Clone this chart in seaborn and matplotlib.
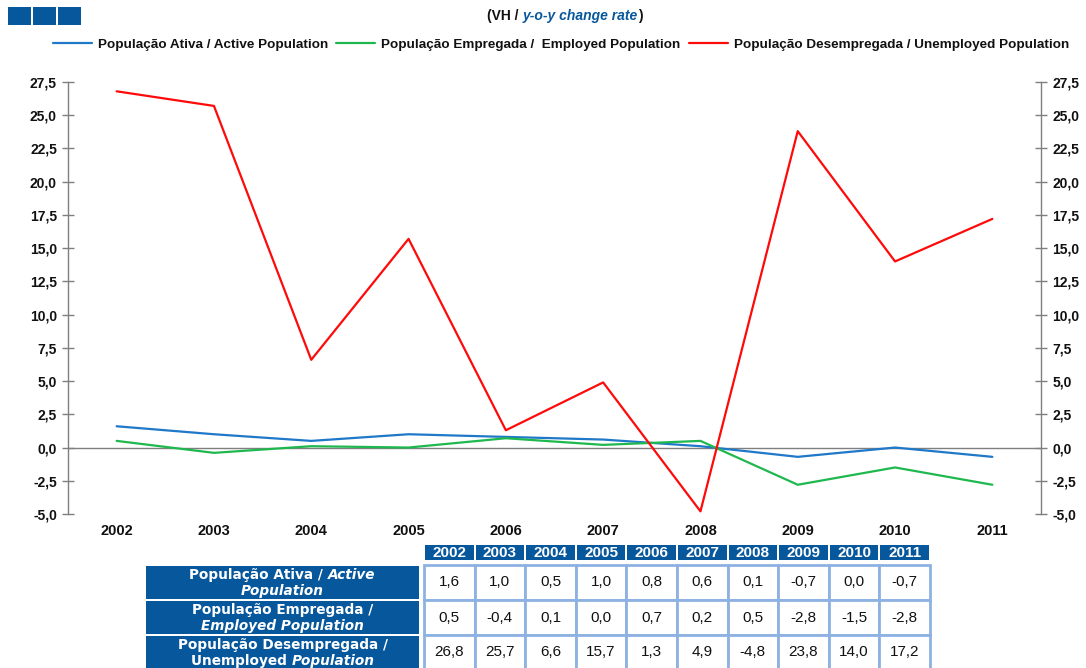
import matplotlib
matplotlib.use("Agg")
import matplotlib.pyplot as plt
from matplotlib.patches import Rectangle
from matplotlib.ticker import FixedLocator, FuncFormatter
import seaborn as sns
import pandas as pd
import numpy as np

# ---- data ----
years = ["2002", "2003", "2004", "2005", "2006", "2007", "2008", "2009", "2010", "2011"]
active = [1.6, 1.0, 0.5, 1.0, 0.8, 0.6, 0.1, -0.7, 0.0, -0.7]
employed = [0.5, -0.4, 0.1, 0.0, 0.7, 0.2, 0.5, -2.8, -1.5, -2.8]
unemployed = [26.8, 25.7, 6.6, 15.7, 1.3, 4.9, -4.8, 23.8, 14.0, 17.2]
series_names = [
    "População Ativa / Active Population",
    "População Empregada /  Employed Population",
    "População Desempregada / Unemployed Population",
]
y_ticks = [-5.0, -2.5, 0.0, 2.5, 5.0, 7.5, 10.0, 12.5, 15.0, 17.5, 20.0, 22.5, 25.0, 27.5]

BLUE = "#1f78c8"
GREEN = "#1fb84f"
RED = "#ff0a0a"
DARK = "#07579c"
BORDER = "#8db2e2"
GRAY = "#7f7f7f"

sns.set_theme(style="white")
plt.rcParams["font.family"] = ["Liberation Sans", "DejaVu Sans"]

W, H = 1086, 668
fig = plt.figure(figsize=(W / 100, H / 100), dpi=100)

def px_ax(l, t, r, b):
    return [l / W, 1 - b / H, (r - l) / W, (b - t) / H]

ax = fig.add_axes(px_ax(68, 82, 1041, 514))

idx = list(range(len(years)))
df = pd.DataFrame({
    "idx": idx * 3,
    "value": active + employed + unemployed,
    "series": [series_names[0]] * len(years) + [series_names[1]] * len(years) + [series_names[2]] * len(years),
})
sns.lineplot(data=df, x="idx", y="value", hue="series", hue_order=series_names,
             palette=[BLUE, GREEN, RED], linewidth=1.6, ax=ax, legend=True, zorder=3)
handles, labels = ax.get_legend_handles_labels()
ax.get_legend().remove()

ax.set_xlim(-0.5, len(years) - 0.5)
ax.set_ylim(-5.0, 27.5)
ax.set_xlabel("")
ax.set_ylabel("")

fmt = FuncFormatter(lambda v, p: f"{v:.1f}".replace(".", ","))
ax.yaxis.set_major_locator(FixedLocator(y_ticks))
ax.yaxis.set_major_formatter(fmt)

for s in ["top", "right"]:
    ax.spines[s].set_visible(False)
ax.spines["left"].set_color(GRAY)
ax.spines["left"].set_linewidth(1.0)
ax.spines["bottom"].set_position(("data", 0))
ax.spines["bottom"].set_color(GRAY)
ax.spines["bottom"].set_linewidth(1.0)

ax.set_xticks(idx)
ax.set_xticklabels(years)
ax.set_xticks(np.arange(0.5, len(years) - 1, 1.0), minor=True)
ax.tick_params(axis="x", which="major", length=0, pad=55, labelsize=10.5)
ax.tick_params(axis="x", which="minor", length=4, direction="out", color=GRAY, width=1.0)
ax.tick_params(axis="y", which="major", length=8, direction="inout", color=GRAY, width=1.0,
               labelsize=10, pad=4, left=True)
for t in ax.get_xticklabels() + ax.get_yticklabels():
    t.set_fontweight("bold")
    t.set_color("#111111")

ax2 = ax.twinx()
ax2.set_ylim(-5.0, 27.5)
ax2.yaxis.set_major_locator(FixedLocator(y_ticks))
ax2.yaxis.set_major_formatter(fmt)
for s in ["top", "left", "bottom"]:
    ax2.spines[s].set_visible(False)
ax2.spines["right"].set_color(GRAY)
ax2.spines["right"].set_linewidth(1.0)
ax2.tick_params(axis="y", which="major", length=8, direction="inout", color=GRAY, width=1.0,
                labelsize=10, pad=4, right=True)
for t in ax2.get_yticklabels():
    t.set_fontweight("bold")
    t.set_color("#111111")

# ---- legend ----
leg = fig.legend(handles, labels, loc="center", bbox_to_anchor=(561 / W, 1 - 45 / H), ncol=3,
                 frameon=False, handlelength=2.9, handletextpad=0.45, columnspacing=0.6,
                 prop={"weight": "bold", "size": 9.7})
for t in leg.get_texts():
    t.set_color("#111111")

# ---- overlay axes in pixel coords ----
ov = fig.add_axes([0, 0, 1, 1], zorder=5)
ov.set_xlim(0, W)
ov.set_ylim(H, 0)
ov.axis("off")

# blue squares top-left
for x0 in [8, 33, 58]:
    ov.add_patch(Rectangle((x0, 7), 23, 18, facecolor=DARK, edgecolor="none"))

renderer = fig.canvas.get_renderer()

def rich_line(parts, xc, yc, size, default_color="#111111", family=None):
    """parts: list of (text, style, color). Draw centered at xc."""
    objs = []
    widths = []
    for txt, style, col in parts:
        kw = {}
        if family:
            kw["family"] = family
        t = ov.text(0, yc, txt, fontsize=size, fontweight="bold", fontstyle=style,
                    color=col or default_color, va="center", ha="left", **kw)
        bb = t.get_window_extent(renderer=renderer)
        objs.append(t)
        widths.append(bb.width)
    total = sum(widths)
    x = xc - total / 2
    for t, w in zip(objs, widths):
        t.set_x(x)
        x += w

# subtitle
rich_line([("(VH / ", "normal", "#111111"), ("y-o-y change rate", "italic", DARK), (")", "normal", "#111111")],
          565, 16, 10)

# ---- table ----
cell_l, cell_r = 424, 930
cw = (cell_r - cell_l) / len(years)
hdr_t, hdr_b = 545, 560
row_bounds = [(565, 600), (600, 635), (635, 670)]
label_l, label_r = 146, 419

for i, y in enumerate(years):
    x0 = cell_l + i * cw
    ov.add_patch(Rectangle((x0 + 1, hdr_t), cw - 2, hdr_b - hdr_t, facecolor=DARK, edgecolor="none"))
    ov.text(x0 + cw / 2, (hdr_t + hdr_b) / 2 + 0.5, y, color="white", fontsize=11, fontweight="bold",
            ha="center", va="center")

row_values = [active, employed, unemployed]
row_labels = [
    [[("População Ativa / ", "normal"), ("Active", "italic")], [("Population", "italic")]],
    [[("População Empregada /", "normal")], [("Employed Population", "italic")]],
    [[("População Desempregada /", "normal")], [("Unemployed ", "normal"), ("Population", "italic")]],
]
for r, ((t, b), vals, lab) in enumerate(zip(row_bounds, row_values, row_labels)):
    ov.add_patch(Rectangle((label_l, t + 1), label_r - label_l, b - t - 2, facecolor=DARK, edgecolor="none"))
    yc = (t + b) / 2
    fam = ["DejaVu Sans"]
    rich_line([(s, st, "white") for s, st in lab[0]], (label_l + label_r) / 2, yc - 7.5, 9.8, family=fam)
    rich_line([(s, st, "white") for s, st in lab[1]], (label_l + label_r) / 2, yc + 8.5, 9.8, family=fam)
    for i, v in enumerate(vals):
        x0 = cell_l + i * cw
        ov.add_patch(Rectangle((x0, t), cw, b - t, facecolor="white", edgecolor=BORDER, linewidth=2.0))
        ov.text(x0 + cw / 2, yc, f"{v:.1f}".replace(".", ","), fontsize=11, color="#111111",
                ha="center", va="center")

fig.savefig("out.png", dpi=100)
